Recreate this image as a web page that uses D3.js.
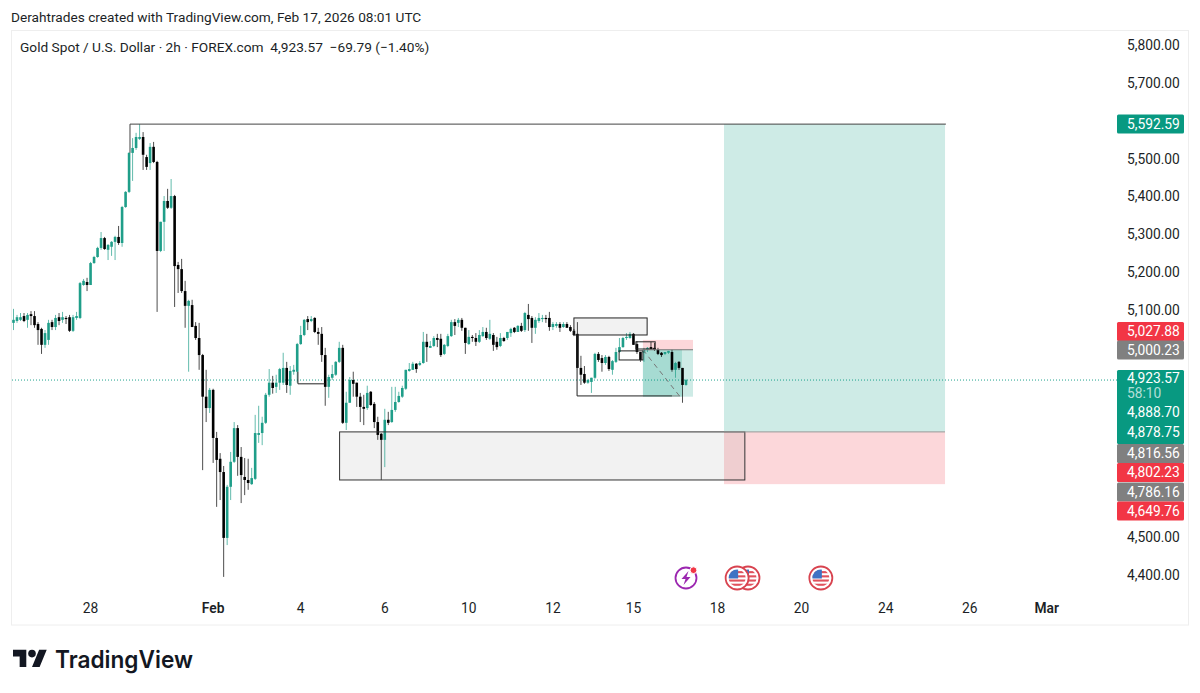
<!DOCTYPE html>
<html>
<head>
<meta charset="utf-8">
<script src="https://cdn.jsdelivr.net/npm/d3@7"></script>
<style>
html,body{margin:0;padding:0;background:#fff;}
svg{display:block;font-family:Roboto,sans-serif;}
</style>
</head>
<body>
<svg id="c" width="1200" height="693"></svg>
<script>
// ---- candle data (2h bars) ----
const open = [5066,5071,5074,5084,5074,5089,5084,5063,5050,5008,5021,5068,5055,5081,5074,5079,5081,5045,5079,5079,5166,5174,5166,5224,5240,5264,5290,5259,5267,5280,5293,5277,5372,5412,5515,5528,5552,5557,5504,5488,5531,5491,5256,5333,5388,5370,5401,5219,5208,5150,5111,5113,5058,5026,4981,4871,4841,4889,4762,4707,4672,4498,4633,4699,4788,4712,4659,4651,4640,4654,4770,4775,4802,4876,4908,4897,4908,4908,4947,4900,4937,4937,5010,5034,5076,5071,5079,5042,5037,4981,4897,4921,4929,4963,5000,4802,4855,4915,4908,4871,4844,4841,4884,4852,4804,4773,4757,4810,4804,4836,4857,4871,4892,4939,4942,4958,4955,4960,5016,5000,5005,5026,5024,4984,5005,5031,5068,5066,5074,5053,5010,5029,5026,5016,5031,5042,5024,5034,5016,5005,5026,5026,5039,5053,5042,5058,5047,5087,5079,5053,5071,5076,5079,5079,5055,5058,5063,5055,5063,5055,5045,5037,4947,4931,4908,4910,4921,4984,4973,4960,4976,4942,4963,4989,5002,5026,5026,5037,5010,4989,4987,4995,5002,5000,4995,4987,4984,4987,4989,4942,4963,4947,4902];
const high = [5103,5087,5092,5092,5092,5097,5097,5068,5053,5047,5074,5074,5087,5092,5095,5084,5087,5087,5095,5174,5182,5185,5227,5243,5267,5306,5293,5274,5282,5296,5322,5375,5414,5517,5554,5568,5591,5570,5510,5541,5544,5494,5333,5401,5420,5446,5404,5227,5235,5177,5127,5127,5068,5066,4984,4942,4894,4892,4778,4722,4688,4638,4725,4804,4796,4738,4709,4707,4683,4823,4847,4818,4881,4944,4926,4929,4947,4987,4963,4952,4955,5013,5058,5076,5084,5084,5081,5053,5055,5000,4929,4955,4965,5016,5008,4884,4923,4937,4908,4881,4876,4900,4886,4857,4818,4775,4839,4831,4897,4897,4884,4900,4942,4960,4963,4960,4965,5042,5037,5018,5031,5037,5037,5010,5037,5074,5076,5079,5079,5053,5047,5034,5039,5047,5055,5053,5074,5039,5029,5039,5029,5042,5053,5055,5060,5066,5095,5116,5084,5081,5092,5087,5087,5095,5068,5068,5068,5068,5068,5060,5050,5068,4979,4952,4918,4921,4987,4989,4981,4981,4979,4968,5000,5026,5029,5039,5042,5039,5018,4989,5000,5002,5016,5013,5000,4989,4989,4992,4995,4963,4965,4947,4918];
const low = [5047,5066,5071,5068,5053,5060,5053,5008,4984,5000,5008,5047,5047,5060,5066,5063,5042,5042,5074,5076,5164,5150,5166,5222,5238,5259,5259,5232,5243,5232,5272,5267,5370,5409,5441,5523,5549,5470,5470,5470,5488,5095,5253,5256,5367,5367,5108,5145,5145,5053,4937,5055,5021,4942,4677,4804,4828,4696,4580,4598,4395,4479,4598,4696,4662,4590,4611,4625,4638,4651,4749,4743,4799,4871,4879,4881,4889,4902,4881,4876,4929,4908,5008,5031,5047,5068,5039,5008,4963,4847,4868,4915,4926,4960,4799,4783,4855,4871,4844,4804,4796,4836,4847,4788,4757,4651,4685,4796,4802,4831,4855,4868,4889,4937,4942,4934,4952,4958,4963,5000,5002,5002,4976,4981,5002,5029,5034,5055,5045,4984,5008,5016,5005,5013,5029,5021,5021,4992,4995,5002,5016,5021,5029,5039,5042,5042,5042,5045,5013,5037,5066,5068,5066,5045,5047,5053,5042,5053,5053,5042,5031,4947,4902,4905,4905,4881,4918,4963,4937,4955,4939,4929,4960,4987,5000,5021,5024,5008,4984,4963,4963,4989,4995,4992,4981,4976,4981,4984,4937,4921,4942,4855,4900];
const close = [5074,5081,5081,5071,5087,5084,5060,5047,5008,5039,5066,5055,5079,5071,5081,5076,5045,5081,5084,5171,5177,5166,5224,5240,5264,5290,5261,5272,5280,5293,5277,5372,5412,5515,5528,5557,5557,5510,5478,5531,5491,5256,5333,5388,5370,5401,5216,5208,5150,5111,5124,5055,5026,4981,4871,4841,4889,4762,4704,4672,4498,4633,4699,4788,4712,4664,4651,4643,4656,4775,4775,4802,4876,4908,4894,4908,4944,4947,4902,4939,4942,5010,5034,5074,5068,5076,5042,5037,4981,4897,4923,4931,4963,5000,4802,4855,4915,4905,4871,4844,4839,4881,4849,4804,4770,4757,4810,4802,4836,4857,4873,4894,4942,4944,4958,4944,4960,5016,5002,5005,5026,5021,4981,5008,5031,5068,5058,5074,5053,5013,5029,5026,5016,5034,5042,5026,5037,5008,5002,5026,5018,5042,5050,5042,5058,5045,5092,5076,5053,5074,5079,5079,5076,5055,5063,5063,5053,5063,5053,5045,5034,4947,4929,4908,4915,4921,4984,4968,4960,4976,4944,4965,4989,5002,5026,5029,5037,5008,4989,4968,4995,5000,4997,4995,4984,4981,4989,4992,4942,4960,4947,4902,4915];

// ---- axes ----
const priceTicks = [5800,5700,5500,5400,5300,5200,5100,4500,4400];
const timeTickBars = [22,57,82,106,130,154,177,201,225,249,273,295];
const timeTickLabels = ["28","Feb","4","6","10","12","15","18","20","24","26","Mar"];
const timeTickBold = ["Feb","Mar"];

// ---- price tags on the right axis ----
const tagTexts  = ["5,592.59","5,027.88","5,000.23","4,923.57","4,888.70","4,878.75","4,816.56","4,802.23","4,786.16","4,649.76"];
const tagKinds  = ["up","down","neutral","up","up","up","neutral","down","neutral","down"];
const lastPriceLine = 4915;
const countdown = "58:10";

// ---- drawings, in bar index / price ----
const topLineBars = [33.26, 266.2];
const topLinePrices = [5515, 5591];
const longBars = [202.85, 265.95];
const longPrices = [5591, 4778, 4640];       // target, entry, stop
const zoneBars = [93.1, 208.8];
const zonePrices = [4778, 4651];
const upperBoxBars = [160, 180.9];
const upperBoxPrices = [5079, 5034];
const rangeBars = [160.9, 188, 190.3];
const rangePrices = [5034, 4873];
const lBars = [81.2, 88.9];
const lPrices = [4937, 4905];
const miniBars = [179.7, 190.85, 194];
const miniPrices = [5021, 4995, 4871];
const boxABars = [172.9, 179.7];
const boxAPrices = [4992, 4968];
const boxBBars = [177.7, 183.2];
const boxBPrices = [5016, 4997];
const dashBars = [179.7, 190.3];
const dashPrices = [4995, 4871];

// ---- event markers ----
const lightningBar = 192;
const flagBars = [209.7, 206.6, 230.5];

const UP="#089981", DOWN="#f23645", GREY="#808080", INK="#1c1f26";
const tagFill = {up:UP, down:DOWN, neutral:GREY};

const W=1200, H=693;
const svg = d3.select("#c");
const x = d3.scaleLinear().domain([0,open.length-1]).range([13.5,686]);
const y = d3.scaleLinear().domain([4400,5800]).range([575,45]);
const axisFont = 13.8;

// header + frame
svg.append("rect").attr("width",W).attr("height",H).attr("fill","#fff");
svg.append("rect").attr("x",11.5).attr("y",30.5).attr("width",1177).attr("height",594.5)
   .attr("fill","none").attr("stroke","#eeeeee");
svg.append("text").attr("x",11).attr("y",21.5).attr("font-size",13.66).attr("fill",INK)
   .text("Derahtrades created with TradingView.com, Feb 17, 2026 08:01 UTC");
svg.append("text").attr("x",20).attr("y",52).attr("font-size",13.7).attr("fill",INK).attr("xml:space","preserve")
   .text("Gold Spot / U.S. Dollar \u00b7 2h \u00b7 FOREX.com  4,923.57  \u221269.79 (\u22121.40%)");

const rect=(g,b0,b1,p0,p1)=>g.append("rect").attr("x",x(b0)).attr("y",y(p0))
   .attr("width",x(b1)-x(b0)).attr("height",y(p1)-y(p0));

// filled areas below the candles
const fills = svg.append("g");
rect(fills,longBars[0],longBars[1],longPrices[0],longPrices[1]).attr("fill",UP).attr("fill-opacity",.2);
rect(fills,longBars[0],longBars[1],longPrices[1],longPrices[2]).attr("fill",DOWN).attr("fill-opacity",.2);
rect(fills,zoneBars[0],zoneBars[1],zonePrices[0],zonePrices[1]).attr("fill",GREY).attr("fill-opacity",.1);
rect(fills,upperBoxBars[0],upperBoxBars[1],upperBoxPrices[0],upperBoxPrices[1]).attr("fill",GREY).attr("fill-opacity",.1);
rect(fills,miniBars[0],miniBars[2],miniPrices[0],miniPrices[1]).attr("fill",DOWN).attr("fill-opacity",.2);
rect(fills,miniBars[0],miniBars[2],miniPrices[1],miniPrices[2]).attr("fill",UP).attr("fill-opacity",.2);
rect(fills,miniBars[0],miniBars[1],miniPrices[1],miniPrices[2]).attr("fill",UP).attr("fill-opacity",.2);

// current price dotted line
svg.append("line").attr("x1",12).attr("x2",1117).attr("y1",y(lastPriceLine)).attr("y2",y(lastPriceLine))
   .attr("stroke",UP).attr("stroke-width",1).attr("stroke-dasharray","1 2").attr("stroke-opacity",.9);

// candles
const idx = d3.range(open.length);
const col = i => close[i]>=open[i] ? "#1f9e89" : "#000";
const cg = svg.append("g");
cg.selectAll("line").data(idx).join("line")
  .attr("x1",x).attr("x2",x).attr("y1",i=>y(high[i])).attr("y2",i=>y(low[i]))
  .attr("stroke",col).attr("stroke-width",1).attr("stroke-opacity",.7);
cg.selectAll("rect").data(idx).join("rect")
  .attr("x",i=>x(i)-1.3).attr("width",2.6)
  .attr("y",i=>y(Math.max(open[i],close[i])))
  .attr("height",i=>Math.max(1,Math.abs(y(open[i])-y(close[i]))))
  .attr("fill",col);

// drawing outlines above candles
const line = d3.line().x(d=>x(d[0])).y(d=>y(d[1]));
const ol = svg.append("g").attr("fill","none").attr("stroke","#222").attr("stroke-width",1);
ol.append("path").attr("d",line([[topLineBars[0],topLinePrices[0]],[topLineBars[0],topLinePrices[1]],[topLineBars[1],topLinePrices[1]]])).attr("stroke","#444");
rect(ol,zoneBars[0],zoneBars[1],zonePrices[0],zonePrices[1]).attr("stroke","#333");
rect(ol,upperBoxBars[0],upperBoxBars[1],upperBoxPrices[0],upperBoxPrices[1]);
ol.append("path").attr("d",line([[rangeBars[0],rangePrices[0]],[rangeBars[0],rangePrices[1]],[rangeBars[1],rangePrices[1]]]));
ol.append("path").attr("d",line([[rangeBars[1],rangePrices[1]],[rangeBars[2],rangePrices[1]]])).attr("stroke","#888");
ol.append("path").attr("d",line([[lBars[0],lPrices[0]],[lBars[0],lPrices[1]],[lBars[1],lPrices[1]]]));
rect(ol,boxABars[0],boxABars[1],boxAPrices[0],boxAPrices[1]);
rect(ol,boxBBars[0],boxBBars[1],boxBPrices[0],boxBPrices[1]);
ol.append("path").attr("d",line([[miniBars[0],miniPrices[1]],[miniBars[2],miniPrices[1]]])).attr("stroke","#777");
ol.append("path").attr("d",line([[longBars[0],longPrices[1]],[longBars[1],longPrices[1]]])).attr("stroke","#999");
ol.append("path").attr("d",line(dashBars.map((b,i)=>[b,dashPrices[i]]))).attr("stroke","#777").attr("stroke-dasharray","5 4");

// price axis
svg.append("g").selectAll("text").data(priceTicks).join("text")
  .attr("x",1127).attr("y",d=>y(d)).attr("dy","0.36em").attr("font-size",axisFont).attr("fill",INK)
  .text(d3.format(",.2f"));

// price tags: stacked boxes in the right-hand column
const tagX=1117, tagW=67, tagH=19;
const tagCentre = [124,331.5,350,378,412.5,432,453.5,472.5,492,511];
const tg = svg.append("g");
tg.append("rect").attr("x",tagX).attr("y",370).attr("width",tagW).attr("height",74).attr("rx",1.5).attr("fill",UP);
tagTexts.forEach((t,i)=>{
  const c=tagCentre[i];
  if(![3,4,5].includes(i)) tg.append("rect").attr("x",tagX).attr("y",c-tagH/2).attr("width",tagW).attr("height",tagH).attr("rx",1.5).attr("fill",tagFill[tagKinds[i]]);
  tg.append("text").attr("x",1127).attr("y",c).attr("dy","0.36em").attr("font-size",axisFont).attr("fill","#fff").text(t);
});
tg.append("text").attr("x",1127).attr("y",393.5).attr("dy","0.36em").attr("font-size",axisFont).attr("fill","#fff").attr("fill-opacity",.7).text(countdown);

// time axis
svg.append("g").selectAll("text").data(timeTickBars).join("text")
  .attr("x",d=>x(d)).attr("y",608).attr("dy","0.36em").attr("text-anchor","middle")
  .attr("font-size",axisFont).attr("fill",INK)
  .attr("font-weight",(d,i)=>timeTickBold.includes(timeTickLabels[i])?600:400)
  .text((d,i)=>timeTickLabels[i]);

// event markers
const ey=578;
const defs=svg.append("defs");
defs.append("clipPath").attr("id","fc").append("circle").attr("r",8.5);
function flag(b){
  const g=svg.append("g").attr("transform",`translate(${x(b)},${ey})`);
  g.append("circle").attr("r",11.5).attr("fill","#fff").attr("stroke","#d8434f").attr("stroke-width",1.8);
  const f=g.append("g").attr("clip-path","url(#fc)");
  f.append("rect").attr("x",-9).attr("y",-9).attr("width",18).attr("height",18).attr("fill","#fff");
  d3.range(-9,9,4.2).forEach(v=>f.append("rect").attr("x",-9).attr("y",v+2.1).attr("width",18).attr("height",2.1).attr("fill","#e0525d"));
  f.append("rect").attr("x",-9).attr("y",-9).attr("width",10).attr("height",9.5).attr("fill","#3f73c4");
}
flagBars.forEach(flag);
const lg=svg.append("g").attr("transform",`translate(${x(lightningBar)},${ey})`);
lg.append("circle").attr("r",10.5).attr("fill","#fff").attr("stroke","#9c27b0").attr("stroke-width",1.8);
lg.append("path").attr("d","M2.5,-7 L-4.5,1 L-0.5,1 L-2.5,7 L4.5,-1 L0.5,-1 Z").attr("fill","#9c27b0");
lg.append("circle").attr("cx",7.5).attr("cy",-7.8).attr("r",3.4).attr("fill","#f23645").attr("stroke","#fff");

// logo
const logo=svg.append("g").attr("transform","translate(13,646) scale(0.95)").attr("fill","#131722");
logo.append("path").attr("d","M14 22H7V11H0V4h14v18zM28 22h-8l7.5-18h8L28 22z");
logo.append("circle").attr("cx",20).attr("cy",8).attr("r",4);
svg.append("text").attr("x",55).attr("y",668).attr("font-family","Inter,Roboto,sans-serif").attr("font-size",24)
   .attr("font-weight",600).attr("fill","#131722").attr("textLength",138).attr("lengthAdjust","spacingAndGlyphs").text("TradingView");
</script>
</body>
</html>
